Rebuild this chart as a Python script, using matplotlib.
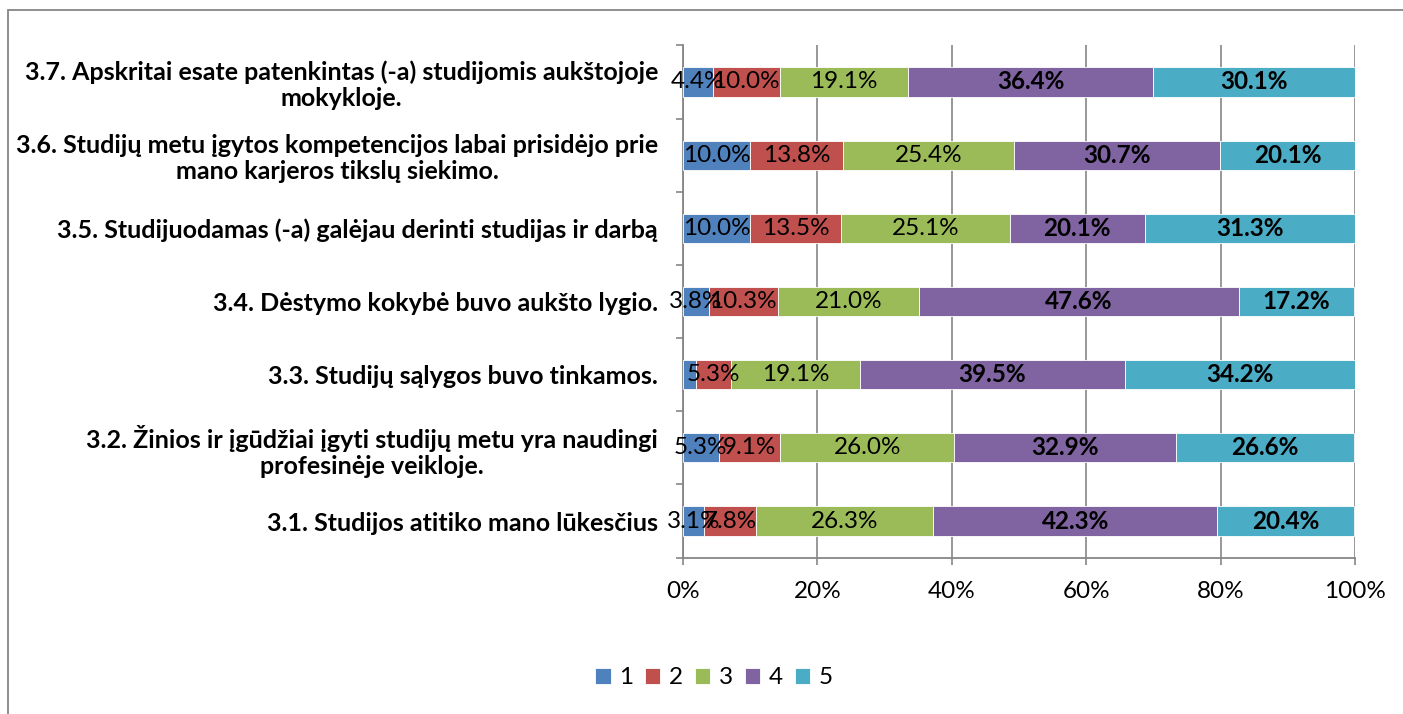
import matplotlib
matplotlib.use("Agg")
import matplotlib.pyplot as plt
from matplotlib.patches import Rectangle
from matplotlib.ticker import PercentFormatter

plt.rcParams['font.family'] = ['Lato', 'DejaVu Sans']

categories = [
    "3.1. Studijos atitiko mano lūkesčius",
    "3.2. Žinios ir įgūdžiai įgyti studijų metu yra naudingi\nprofesinėje veikloje.",
    "3.3. Studijų sąlygos buvo tinkamos.",
    "3.4. Dėstymo kokybė buvo aukšto lygio.",
    "3.5. Studijuodamas (-a) galėjau derinti studijas ir darbą",
    "3.6. Studijų metu įgytos kompetencijos labai prisidėjo prie\nmano karjeros tikslų siekimo.",
    "3.7. Apskritai esate patenkintas (-a) studijomis aukštojoje\nmokykloje.",
]
series_names = ["1", "2", "3", "4", "5"]
s1 = [3.1, 5.3, 1.9, 3.8, 10.0, 10.0, 4.4]
s2 = [7.8, 9.1, 5.3, 10.3, 13.5, 13.8, 10.0]
s3 = [26.3, 26.0, 19.1, 21.0, 25.1, 25.4, 19.1]
s4 = [42.3, 32.9, 39.5, 47.6, 20.1, 30.7, 36.4]
s5 = [20.4, 26.6, 34.2, 17.2, 31.3, 20.1, 30.1]
show_label_s1 = [True, True, False, True, True, True, True]
xticks = [0, 0.2, 0.4, 0.6, 0.8, 1.0]

colors = ["#4F81BD", "#C0504D", "#9BBB59", "#8064A2", "#4BACC6"]
series = [s1, s2, s3, s4, s5]

W, H = 1403, 714
fig = plt.figure(figsize=(W / 100, H / 100), dpi=100)
ax = fig.add_axes([683 / W, 1 - 557.6 / H, (1355 - 683) / W, (557.6 - 45.4) / H])

n = len(categories)
ys = list(range(n))
left = [0.0] * n
for si, (vals, col, name) in enumerate(zip(series, colors, series_names)):
    fr = [v / 100.0 for v in vals]
    ax.barh(ys, fr, left=left, height=0.4, color=col, edgecolor="white",
            linewidth=0.6, label=name, zorder=3)
    for i in range(n):
        if si == 0 and not show_label_s1[i]:
            continue
        cx = left[i] + fr[i] / 2
        ax.text(cx, ys[i], f"{vals[i]:.1f}%", ha="center", va="center",
                fontsize=17.5, fontweight="bold" if si >= 3 else "normal",
                color="black", zorder=5)
    left = [l + f for l, f in zip(left, fr)]

ax.set_xlim(0, 1)
ax.set_ylim(-0.5, n - 0.5)
ax.set_xticks(xticks)
ax.xaxis.set_major_formatter(PercentFormatter(1.0, decimals=0))
ax.set_yticks(ys)
ax.set_yticklabels(categories, fontweight="bold", fontsize=18, ha="right",
                   multialignment="center", linespacing=1.15)
ax.set_yticks([y - 0.5 for y in range(n + 1)], minor=True)
ax.tick_params(axis="y", which="major", length=0, pad=18)
ax.tick_params(axis="y", which="minor", length=5, width=1.2, color="#868686", direction="out")
ax.tick_params(axis="x", which="major", length=5, width=1.2, color="#868686",
               labelsize=17.5, pad=12)
ax.grid(axis="x", color="#868686", linewidth=1.2, zorder=0)
for s in ["top", "right"]:
    ax.spines[s].set_visible(False)
for s in ["left", "bottom"]:
    ax.spines[s].set_color("#868686")
    ax.spines[s].set_linewidth(1.3)

leg = fig.legend(loc="center", bbox_to_anchor=(714 / W, 1 - 678 / H), ncol=5,
                 frameon=False, fontsize=17.5, handlelength=0.62, handleheight=0.62,
                 handletextpad=0.35, columnspacing=0.5)

fig.patches.append(Rectangle((8 / W, -0.1), 1.2, 1 - 10 / H + 0.1,
                             transform=fig.transFigure, fill=False,
                             edgecolor="#868686", linewidth=1.3))

fig.savefig("out.png", dpi=100, facecolor="white")
